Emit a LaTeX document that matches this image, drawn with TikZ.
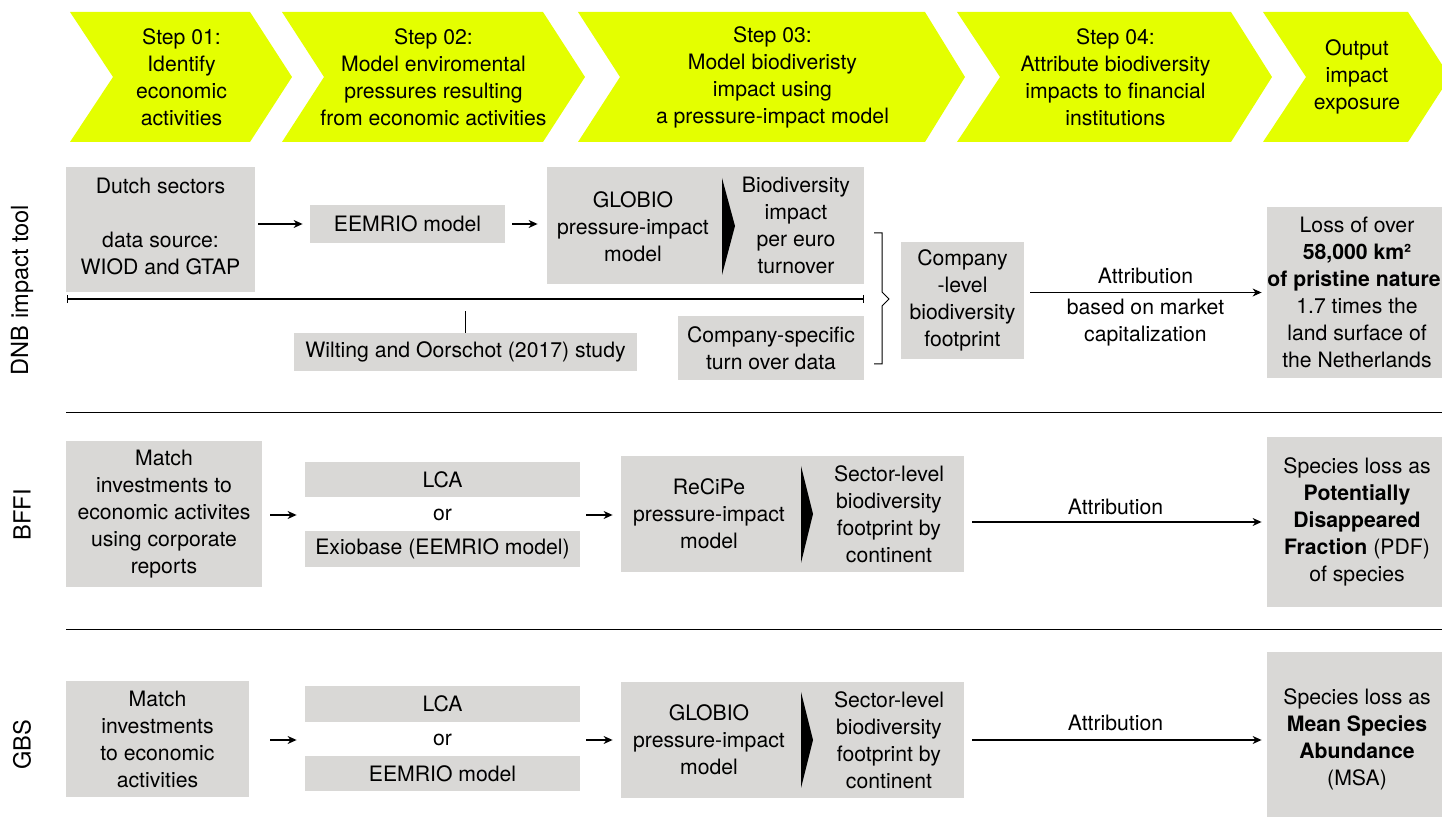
\documentclass[tikz,border=0pt]{standalone}
\usepackage{fontspec}
\setmainfont{TeX Gyre Heros}
\usetikzlibrary{arrows.meta}
\definecolor{chevyellow}{RGB}{228,255,0}
\definecolor{boxgrey}{RGB}{217,216,214}
\tikzstyle{greybox} = [rectangle, fill=boxgrey, inner sep=0pt, align=center]
\tikzstyle{plain} = [inner sep=0pt, align=center]
\tikzstyle{arrow} = [line width=0.6pt, -{Stealth[length=4.5pt,width=4pt]}]
\tikzstyle{rowname} = [inner sep=0pt, rotate=90, font=\fontsize{11.8}{14}\selectfont]

\begin{document}
\begin{tikzpicture}[x=0.5pt, y=-0.5pt, font=\fontsize{10.6}{13.5}\selectfont]
    \useasboundingbox (0,0) rectangle (1442,817);
    % steps
    \foreach \l/\n/\s/\t in {70/113/250/292, 282/324/543/585, 578/620/925/965, 957/1000/1231/1272, 1263/1306/1408/1450}
        \fill [chevyellow] (\l,12) -- (\s,12) -- (\t,77) -- (\s,142) -- (\l,142) -- (\n,77) -- cycle;
    \node (step1) [plain] at (181.5,77) {Step 01:\\Identify\\economic\\activities};
    \node (step2) [plain] at (433.5,77) {Step 02:\\Model enviromental\\pressures resulting\\from economic activities};
    \node (step3) [plain] at (772.5,77) {Step 03:\\Model biodiveristy\\impact using\\a pressure-impact model};
    \node (step4) [plain] at (1115.5,77) {Step 04:\\Attribute biodiversity\\impacts to financial\\institutions};
    \node (step5) [plain] at (1357,77) {Output\\impact\\exposure};

    % DNB impact tool
    \node (dnb) [rowname] at (22,290) {DNB impact tool};
    \node (dutch) [greybox, minimum width=94.5pt, minimum height=62.5pt] at (160.5,229.5) {Dutch sectors\\[13.5pt]data source:\\WIOD and GTAP\\[-10.5pt]};
    \node (eemrio) [greybox, minimum width=97.5pt, minimum height=19pt] at (407.5,224) {EEMRIO model};
    \node (globio) [greybox, minimum width=158.5pt, minimum height=58.5pt] at (705.5,225.5) {};
    \node (globioL) [plain] at (633,227) {GLOBIO\\pressure-impact\\model};
    \node (globioR) [plain] at (796,225) {Biodiversity\\impact\\per euro\\turnover};
    \fill (722,178) -- (735,226) -- (722,275) -- cycle;
    \node (wilting) [greybox, minimum width=171.5pt, minimum height=19pt] at (465.5,352) {Wilting and Oorschot (2017) study};
    \node (turnover) [greybox, minimum width=93pt, minimum height=32pt] at (771,348) {Company-specific\\turn over data};
    \node (company) [greybox, minimum width=61.5pt, minimum height=58.5pt] at (962.5,300.5) {Company\\-level\\biodiversity\\footprint};
    \node (dnbout) [greybox, minimum width=90pt, minimum height=85.5pt] at (1357,292.5) {Loss of over\\\textbf{58,000 km²}\\\textbf{of pristine nature},\\1.7 times the\\land surface of\\the Netherlands};
    \coordinate (barL) at (67,299);
    \coordinate (barR) at (864,299);
    \draw [line width=0.6pt, {Bar[width=4pt]}-{Bar[width=4pt]}] (barL) -- (barR);
    \draw [line width=0.5pt] (wilting.north) -- ++(0,-22);
    \draw [line width=0.5pt] (874,233) -- (882,233) -- (882,292) -- (889,299) -- (882,306) -- (882,364) -- (874,364);
    \draw [arrow, shorten <=1.5pt, shorten >=3.5pt] (dutch.east |- eemrio) -- (eemrio.west);
    \draw [arrow, shorten <=3.5pt, shorten >=4.5pt] (eemrio.east) -- (globio.west |- eemrio);
    \draw [arrow, shorten <=3pt, shorten >=2.5pt] (company.east |- dnbout.west) -- node[yshift=8.5pt] {Attribution} node[align=center, yshift=-15pt] {based on market\\capitalization} (dnbout.west);

    \draw [line width=0.5pt] (66,413) -- (1442,413);

    % BFFI
    \node (bffi) [rowname] at (22,515) {BFFI};
    \node (bffiin) [greybox, minimum width=98pt, minimum height=73pt] at (164,514) {Match\\investments to\\economic activites\\using corporate\\reports};
    \node (lca2) [greybox, minimum width=137.5pt, minimum height=17.5pt] at (442.5,479.5) {LCA};
    \node (or2) [plain] at (442.5,515) {or};
    \node (exio) [greybox, minimum width=137.5pt, minimum height=18pt] at (442.5,549) {Exiobase (EEMRIO model)};
    \node (recipe) [greybox, minimum width=171.5pt, minimum height=58pt] at (792.5,514) {};
    \node (recipeL) [plain] at (709,514) {ReCiPe\\pressure-impact\\model};
    \node (recipeR) [plain] at (889,514) {Sector-level\\biodiversity\\footprint by\\continent};
    \fill (801,466) -- (813,514) -- (801,563) -- cycle;
    \node (bffiout) [greybox, minimum width=90pt, minimum height=85pt] at (1357,522) {Species loss as\\\textbf{Potentially}\\\textbf{Disappeared}\\\textbf{Fraction} (PDF)\\of species};
    \draw [arrow, shorten <=4pt, shorten >=4pt] (bffiin.east |- or2) -- (lca2.west |- or2);
    \draw [arrow, shorten <=3pt, shorten >=4pt] (lca2.east |- or2) -- (recipe.west |- or2);
    \draw [arrow, shorten <=4pt, shorten >=2.5pt] (recipe.east |- bffiout.west) -- node[yshift=7.5pt] {Attribution} (bffiout.west);

    \draw [line width=0.5pt] (66,630) -- (1442,630);

    % GBS
    \node (gbs) [rowname] at (22,745) {GBS};
    \node (gbsin) [greybox, minimum width=91.5pt, minimum height=58pt] at (157.5,739) {Match\\investments\\to economic\\activities};
    \node (lca3) [greybox, minimum width=137.5pt, minimum height=18pt] at (442.5,704) {LCA};
    \node (or3) [plain] at (442.5,740) {or};
    \node (eemrio3) [greybox, minimum width=137.5pt, minimum height=17.5pt] at (442.5,773.5) {EEMRIO model};
    \node (globio3) [greybox, minimum width=171.5pt, minimum height=58pt] at (792.5,740) {};
    \node (globio3L) [plain] at (709,740) {GLOBIO\\pressure-impact\\model};
    \node (globio3R) [plain] at (889,740) {Sector-level\\biodiversity\\footprint by\\continent};
    \fill (801,692) -- (813,740) -- (801,788) -- cycle;
    \node (gbsout) [greybox, minimum width=90pt, minimum height=87.5pt] at (1357,739.5) {Species loss as\\\textbf{Mean Species}\\\textbf{Abundance}\\(MSA)};
    \draw [arrow, shorten <=10.5pt, shorten >=4pt] (gbsin.east |- or3) -- (lca3.west |- or3);
    \draw [arrow, shorten <=3pt, shorten >=4pt] (lca3.east |- or3) -- (globio3.west |- or3);
    \draw [arrow, shorten <=4pt, shorten >=2.5pt] (globio3.east |- or3) -- node[yshift=8.5pt] {Attribution} (gbsout.west |- or3);
\end{tikzpicture}
\end{document}
